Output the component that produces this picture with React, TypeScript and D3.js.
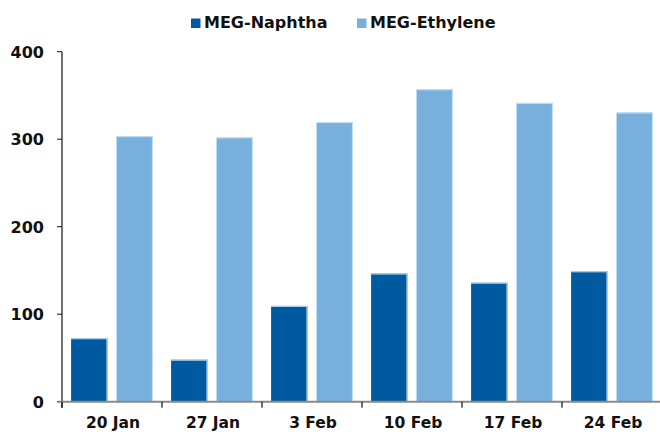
import React from "react";
import * as d3 from "d3";

const categories = ["20 Jan", "27 Jan", "3 Feb", "10 Feb", "17 Feb", "24 Feb"];
const seriesNames = ["MEG-Naphtha", "MEG-Ethylene"];
const naphtha = [72.5, 48, 109.5, 146.5, 136, 149];
const ethylene = [303.5, 302, 319.5, 357, 341.5, 330.5];
const yTicks = [0, 100, 200, 300, 400];

const W = 660;
const H = 432;
const M = { left: 62, right: -2, top: 51.7, bottom: 30.3 };
const colors = ["#005a9f", "#77b0dc"];
const FONT = "'DejaVu Sans', Verdana, sans-serif";

export default function App() {
  const x = d3
    .scaleBand<string>()
    .domain(categories)
    .range([M.left, W - M.right])
    .paddingInner(0)
    .paddingOuter(0);
  const inner = d3
    .scaleBand<string>()
    .domain(seriesNames)
    .range([0, x.bandwidth()])
    .paddingInner(0.2)
    .paddingOuter(0.2);
  const y = d3.scaleLinear().domain([0, 400]).range([H - M.bottom, M.top]);

  const series = [naphtha, ethylene];
  const y0 = y(0);

  return (
    <svg
      width={W}
      height={H}
      style={{ position: "absolute", left: 0, top: 0, display: "block", background: "#fff" }}
    >
      {/* legend */}
      <g fontFamily={FONT} fontWeight="bold" fontSize={16} fill="#111">
        <rect x={191} y={18.5} width={9.5} height={9.5} fill={colors[0]} />
        <text x={204} y={28}>{seriesNames[0]}</text>
        <rect x={357} y={18.5} width={9.5} height={9.5} fill={colors[1]} />
        <text x={370} y={28}>{seriesNames[1]}</text>
      </g>

      {/* bars */}
      {categories.map((c, i) =>
        series.map((s, j) => {
          const bx = (x(c) as number) + (inner(seriesNames[j]) as number);
          const top = y(s[i]);
          return (
            <g key={c + j}>
              <rect x={bx} y={top} width={inner.bandwidth()} height={y0 - top} fill={colors[j]} />
              <path
                d={`M${bx},${top + 0.5}H${bx + inner.bandwidth() - 0.5}V${y0}`}
                fill="none"
                stroke="#c7e2f6"
                strokeWidth={1}
              />
            </g>
          );
        })
      )}

      {/* y axis */}
      <line x1={M.left} x2={M.left} y1={M.top} y2={y0 + 6} stroke="#111" strokeWidth={1.2} />
      {yTicks.map((t) => (
        <g key={t}>
          <line x1={M.left - 5} x2={M.left} y1={y(t)} y2={y(t)} stroke="#111" strokeWidth={1} />
          <text
            x={44}
            y={y(t) + 6}
            textAnchor="end"
            fontFamily={FONT}
            fontWeight="bold"
            fontSize={16}
            fill="#111"
          >
            {t}
          </text>
        </g>
      ))}

      {/* x axis */}
      <line x1={M.left - 4} x2={W} y1={y0} y2={y0} stroke="#8a8a8a" strokeWidth={2} />
      {categories.map((c) => (
        <g key={c}>
          <line x1={x(c) as number} x2={x(c) as number} y1={y0} y2={y0 + 6} stroke="#111" strokeWidth={1.2} />
          <text
            x={(x(c) as number) + x.bandwidth() / 2 + 1}
            y={428}
            textAnchor="middle"
            fontFamily={FONT}
            fontWeight="bold"
            fontSize={15.5}
            fill="#111"
          >
            {c}
          </text>
        </g>
      ))}
    </svg>
  );
}
